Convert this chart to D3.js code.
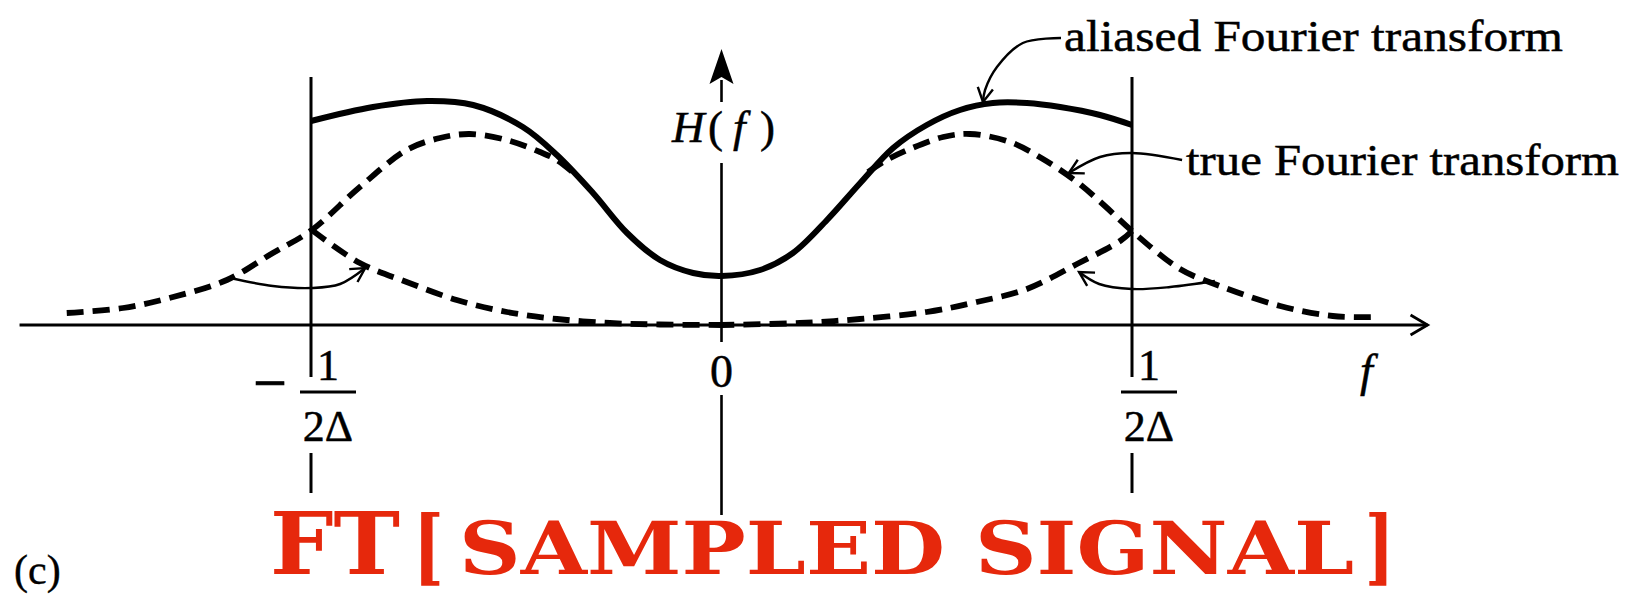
<!DOCTYPE html>
<html>
<head>
<meta charset="utf-8">
<script src="https://cdn.jsdelivr.net/npm/d3@7"></script>
<style>
  html, body { margin: 0; padding: 0; background: #fff; }
  svg { display: block; }
</style>
</head>
<body>
<svg id="chart" width="1634" height="595"></svg>
<script>
// Frequency f is in units of the Nyquist frequency 1/(2Δ); H is in arbitrary amplitude units.

// Aliased Fourier transform (solid), defined only inside the Nyquist interval
const aliasedFT = [
  [-1.000, 2.04], [-0.849, 2.18], [-0.717, 2.24], [-0.605, 2.20], [-0.484, 1.98],
  [-0.401, 1.70], [-0.313, 1.32], [-0.230, 0.92], [-0.150, 0.65], [-0.069, 0.52],
  [0.000, 0.49], [0.094, 0.55], [0.174, 0.72], [0.257, 1.05], [0.338, 1.42],
  [0.418, 1.77], [0.500, 2.00], [0.581, 2.15], [0.661, 2.22], [0.744, 2.22],
  [0.825, 2.18], [0.922, 2.10], [1.000, 2.00]
];

// True Fourier transform (dashed), negative-frequency lobe
const trueLeft = [
  [-1.595, 0.12], [-1.458, 0.17], [-1.336, 0.28], [-1.205, 0.45], [-1.093, 0.72],
  [-0.998, 0.95], [-0.881, 1.38], [-0.767, 1.75], [-0.686, 1.87], [-0.613, 1.91],
  [-0.523, 1.85], [-0.442, 1.73], [-0.401, 1.65], [-0.357, 1.51]
];

// True Fourier transform (dashed), positive-frequency lobe
const trueRight = [
  [0.357, 1.53], [0.398, 1.64], [0.459, 1.76], [0.540, 1.88], [0.605, 1.91],
  [0.703, 1.83], [0.783, 1.66], [0.866, 1.43], [0.934, 1.19], [1.000, 0.94],
  [1.117, 0.56], [1.214, 0.39], [1.361, 0.19], [1.489, 0.09], [1.592, 0.08]
];

// Power beyond ±1/(2Δ) folded back into the interval (dashed)
const foldedLeft = [
  [-0.998, 0.95], [-0.881, 0.62], [-0.767, 0.43], [-0.645, 0.25], [-0.523, 0.13],
  [-0.401, 0.06], [-0.272, 0.02], [-0.150, 0.005], [0.000, 0.0]
];
const foldedRight = [
  [1.000, 0.94], [0.971, 0.84], [0.866, 0.61], [0.744, 0.36], [0.622, 0.23],
  [0.500, 0.13], [0.337, 0.06], [0.191, 0.02], [0.000, 0.0]
];

// Curved pointer arrows (last point is the arrow tip)
const foldArrowLeft  = [[-1.197, 0.47], [-1.093, 0.39], [-0.998, 0.37], [-0.929, 0.41], [-0.868, 0.57]];
const foldArrowRight = [[1.202, 0.44], [1.093, 0.38], [1.000, 0.36], [0.920, 0.41], [0.871, 0.53]];
const aliasedPointer = [[0.827, 2.87], [0.734, 2.82], [0.671, 2.58], [0.642, 2.35], [0.637, 2.23]];
const truePointer    = [[1.122, 1.65], [1.000, 1.72], [0.922, 1.68], [0.846, 1.52]];

// Axis ticks and their labels
const tickValues = [-1, 0, 1];
const tickSigns = ["−", "", ""];
const tickNumerators = ["1", "0", "1"];
const tickDenominators = ["2Δ", "", "2Δ"];
const fDomain = [-1.71, 1.72];

const seriesLabels = ["aliased Fourier transform", "true Fourier transform"];
const titleParts = ["FT", "[", "SAMPLED SIGNAL", "]"];
const panelLabel = "(c)";

const svg = d3.select("#chart");
const serif = "'Liberation Serif', 'Times New Roman', Times, serif";

const x = d3.scaleLinear().domain([-1, 1]).range([311, 1132]);
const y = d3.scaleLinear().domain([0, 2.25]).range([325, 100]);

const line = d3.line()
  .x(d => x(d[0]))
  .y(d => y(d[1]))
  .curve(d3.curveCatmullRom.alpha(0.5));

// ---- axes ----
const x0 = x(fDomain[0]), x1 = x(fDomain[1]), yBase = y(0);
svg.append("line")
  .attr("x1", x0).attr("x2", x1).attr("y1", yBase).attr("y2", yBase)
  .attr("stroke", "#000").attr("stroke-width", 3);
// open arrowhead on the f axis
svg.append("path")
  .attr("d", `M${x1 - 17},${yBase - 10} L${x1},${yBase} L${x1 - 17},${yBase + 10}`)
  .attr("fill", "none").attr("stroke", "#000").attr("stroke-width", 2.8);

// vertical H(f) axis, broken around its label and the zero label
const xc = x(0);
[[80, 102], [163, 342], [395, 515]].forEach(([a, b]) => {
  svg.append("line")
    .attr("x1", xc).attr("x2", xc).attr("y1", a).attr("y2", b)
    .attr("stroke", "#000").attr("stroke-width", 2.6);
});
svg.append("path")
  .attr("d", `M${xc},49 L${xc + 12},84 L${xc},77 L${xc - 12},84 Z`)
  .attr("fill", "#000");

// Nyquist lines at ±1/(2Δ)
tickValues.filter(v => v !== 0).forEach(v => {
  const xv = x(v);
  [[77, 377], [453, 493]].forEach(([a, b]) => {
    svg.append("line")
      .attr("x1", xv).attr("x2", xv).attr("y1", a).attr("y2", b)
      .attr("stroke", "#000").attr("stroke-width", 3);
  });
});

// ---- curves ----
[trueLeft, trueRight, foldedLeft, foldedRight].forEach(d => {
  svg.append("path")
    .attr("d", line(d))
    .attr("fill", "none")
    .attr("stroke", "#000")
    .attr("stroke-width", 5.8)
    .attr("stroke-dasharray", "17 9");
});

svg.append("path")
  .attr("d", line(aliasedFT))
  .attr("fill", "none")
  .attr("stroke", "#000")
  .attr("stroke-width", 6)
  .attr("stroke-linejoin", "round");

// ---- pointer arrows ----
function arrow(points) {
  svg.append("path")
    .attr("d", line(points))
    .attr("fill", "none").attr("stroke", "#000").attr("stroke-width", 2.4);
  const n = points.length;
  const tx = x(points[n - 1][0]), ty = y(points[n - 1][1]);
  const px = x(points[n - 2][0]), py = y(points[n - 2][1]);
  const ang = Math.atan2(ty - py, tx - px);
  const L = 16, spread = 0.5;
  const b1 = [tx - L * Math.cos(ang - spread), ty - L * Math.sin(ang - spread)];
  const b2 = [tx - L * Math.cos(ang + spread), ty - L * Math.sin(ang + spread)];
  svg.append("path")
    .attr("d", `M${b1[0]},${b1[1]} L${tx},${ty} L${b2[0]},${b2[1]}`)
    .attr("fill", "none").attr("stroke", "#000").attr("stroke-width", 2.4);
}
[foldArrowLeft, foldArrowRight, aliasedPointer, truePointer].forEach(arrow);

// ---- text ----
function txt(s, xp, yp, size, opts = {}) {
  const t = svg.append("text")
    .attr("x", xp).attr("y", yp)
    .attr("font-family", opts.family || serif)
    .attr("font-size", size)
    .attr("fill", opts.fill || "#000")
    .attr("text-anchor", opts.anchor || "start")
    .text(s);
  if (opts.italic) t.attr("font-style", "italic");
  if (opts.weight) t.attr("font-weight", opts.weight);
  if (opts.len) t.attr("textLength", opts.len).attr("lengthAdjust", "spacingAndGlyphs");
  if (opts.ink) t.attr("stroke", opts.fill || "#000").attr("stroke-width", opts.ink);
  return t;
}

txt(seriesLabels[0], 1064, 51, 45, { len: 499, ink: 0.5 });
txt(seriesLabels[1], 1186, 175, 45, { len: 433, ink: 0.5 });

// H(f) label on the vertical axis
const hl = svg.append("text")
  .attr("y", 142).attr("font-family", serif).attr("font-size", 45).attr("fill", "#000")
  .attr("stroke", "#000").attr("stroke-width", 0.5);
hl.append("tspan").attr("x", 672).attr("font-style", "italic").text("H");
hl.append("tspan").attr("x", 708).text("(");
hl.append("tspan").attr("x", 733).attr("font-style", "italic").text("f");
hl.append("tspan").attr("x", 760).text(")");

// f axis label
txt("f", 1360, 386, 46, { italic: true, ink: 0.5 });

// tick labels
tickValues.forEach((v, i) => {
  const xv = x(v);
  if (!tickDenominators[i]) {
    txt(tickNumerators[i], xv, 387, 46, { anchor: "middle", ink: 0.5 });
    return;
  }
  const cx = xv + 17;
  txt(tickNumerators[i], cx, 380, 44, { anchor: "middle", ink: 0.5 });
  svg.append("line")
    .attr("x1", cx - 28).attr("x2", cx + 28).attr("y1", 392).attr("y2", 392)
    .attr("stroke", "#000").attr("stroke-width", 2.8);
  txt(tickDenominators[i], cx, 441, 44, { anchor: "middle", ink: 0.5 });
  if (tickSigns[i]) txt(tickSigns[i], cx - 58, 405, 66, { anchor: "middle", len: 34, ink: 0.6 });
});

// panel label
txt(panelLabel, 14, 584, 42, { ink: 0.4 });

// red caption
const red = "#e6280c";
const capFont = "'DejaVu Serif', serif";
txt(titleParts[0], 270, 574, 86, { family: capFont, weight: "bold", fill: red, len: 130 });
txt(titleParts[1], 413, 575, 82, { family: capFont, weight: "bold", fill: red, len: 31 });
txt(titleParts[2], 459, 574, 72, { family: capFont, weight: "bold", fill: red, len: 895 });
txt(titleParts[3], 1365, 575, 82, { family: capFont, weight: "bold", fill: red, len: 29 });
</script>
</body>
</html>
